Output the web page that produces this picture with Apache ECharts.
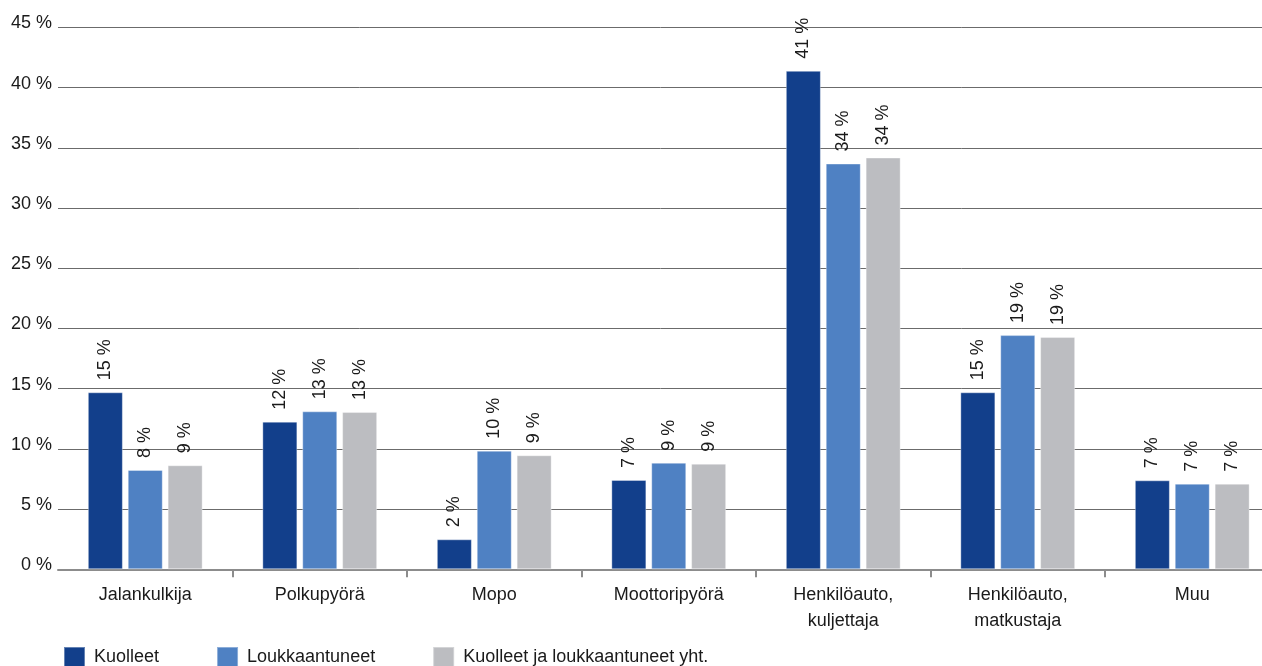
<!DOCTYPE html>
<html>
<head>
<meta charset="utf-8">
<script src="https://cdn.jsdelivr.net/npm/echarts@6/dist/echarts.min.js"></script>
<style>html,body{margin:0;padding:0;background:#fff}#c{width:1262px;height:666px}</style>
</head>
<body>
<div id="c"></div>
<script>
var categories = ['Jalankulkija', 'Polkupyörä', 'Mopo', 'Moottoripyörä', 'Henkilöauto,\nkuljettaja', 'Henkilöauto,\nmatkustaja', 'Muu'];
var seriesNames = ['Kuolleet', 'Loukkaantuneet', 'Kuolleet ja loukkaantuneet yht.'];
var kuolleet = [14.7, 12.26, 2.49, 7.42, 41.4, 14.7, 7.39];
var loukkaantuneet = [8.25, 13.12, 9.85, 8.85, 33.7, 19.45, 7.11];
var yhteensa = [8.64, 13.06, 9.47, 8.77, 34.2, 19.29, 7.11];
var yTicks = [0, 5, 10, 15, 20, 25, 30, 35, 40, 45];
var colors = ['#123f8b', '#4f81c3', '#bcbdc1'];

var font = 'Liberation Sans, Arial, sans-serif';
function mkSeries(name, data, color) {
  return {
    name: name,
    type: 'bar',
    data: data,
    barWidth: 35,
    barGap: '14%',
    itemStyle: { color: color, borderColor: 'rgba(255,255,255,0.35)', borderWidth: 1 },
    label: {
      show: true,
      position: 'top',
      rotate: 90,
      align: 'left',
      verticalAlign: 'middle',
      distance: 12,
      fontSize: 18,
      fontFamily: font,
      color: '#1a1a1a',
      formatter: function (p) { return Math.round(p.value) + ' %'; }
    }
  };
}

var chart = echarts.init(document.getElementById('c'));
chart.setOption({
  animation: false,
  textStyle: { fontFamily: font },
  color: colors,
  grid: { left: 58, top: 27.5, width: 1221.5, height: 541.8, containLabel: false, outerBoundsMode: 'none' },
  legend: {
    left: 63,
    top: 646,
    padding: 0,
    itemWidth: 21,
    itemHeight: 20,
    itemGap: 57,
    icon: 'rect',
    textStyle: { fontSize: 18, color: '#1a1a1a', fontFamily: font, padding: [0, 0, 0, 4] },
    data: seriesNames
  },
  xAxis: {
    type: 'category',
    data: categories,
    axisLine: { lineStyle: { color: '#8c8c8c', width: 2 } },
    axisTick: { show: true, length: 8, lineStyle: { color: '#8c8c8c', width: 2 },
      interval: function (index) { return index !== 0; } },
    axisLabel: { fontSize: 18, color: '#1a1a1a', margin: 13, lineHeight: 26, interval: 0, fontFamily: font }
  },
  yAxis: {
    type: 'value',
    min: 0,
    max: 45,
    interval: 5,
    axisLine: { show: false },
    axisTick: { show: false },
    splitLine: { lineStyle: { color: '#6b6b6b', width: 1 } },
    axisLabel: {
      fontSize: 18, color: '#1a1a1a', margin: 6, fontFamily: font,
      verticalAlign: 'bottom', lineHeight: 8,
      formatter: function (v) { return yTicks.indexOf(v) >= 0 ? v + ' %' : ''; }
    }
  },
  series: [
    mkSeries(seriesNames[0], kuolleet, colors[0]),
    mkSeries(seriesNames[1], loukkaantuneet, colors[1]),
    mkSeries(seriesNames[2], yhteensa, colors[2])
  ]
});
</script>
</body>
</html>
